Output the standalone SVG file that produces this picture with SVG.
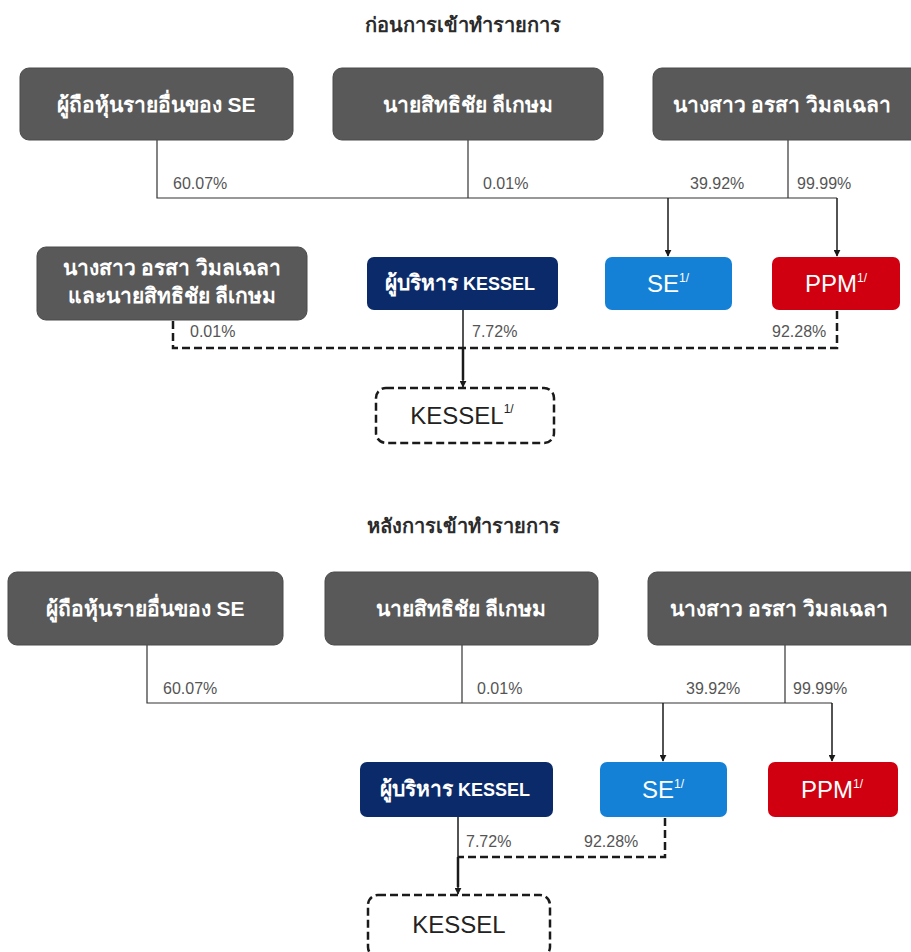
<svg xmlns="http://www.w3.org/2000/svg" width="911" height="952" viewBox="0 0 911 952">
<defs>
<marker id="arr" viewBox="0 0 10 10" refX="9" refY="5" markerWidth="7" markerHeight="7" orient="auto" markerUnits="userSpaceOnUse">
<path d="M0,0 L10,5 L0,10 z" fill="#1a1a1a"/>
</marker>
<style>
.title{font-family:"Liberation Sans","Noto Sans","DejaVu Sans",sans-serif;font-size:20px;font-weight:bold;fill:#2b2b2b;text-anchor:middle}
.gbox{fill:#595959;stroke:#4a4a4a;stroke-width:1}
.gtxt{font-family:"Liberation Sans","Noto Sans","DejaVu Sans",sans-serif;font-size:21px;font-weight:bold;fill:#ffffff;text-anchor:middle}
.navy{fill:#0b2a6a}
.blue{fill:#1581d6}
.red{fill:#d00010}
.ctxt{font-family:"Liberation Sans","Noto Sans","DejaVu Sans",sans-serif;font-size:18px;font-weight:bold;fill:#ffffff;text-anchor:middle}
.th{font-size:21px}
.btxt{font-family:"Liberation Sans","Noto Sans","DejaVu Sans",sans-serif;font-size:24px;fill:#ffffff;text-anchor:middle}
.ktxt{font-family:"Liberation Sans","Noto Sans","DejaVu Sans",sans-serif;font-size:24px;fill:#222222;text-anchor:middle}
.sup{font-size:12px}
.kbox{fill:#ffffff;stroke:#1a1a1a;stroke-width:2.5;stroke-dasharray:8 4}
.pct{font-family:"Liberation Sans","Noto Sans","DejaVu Sans",sans-serif;font-size:16px;fill:#555555}
.ln{fill:none;stroke:#333333;stroke-width:1.2}
.ar{fill:none;stroke:#1a1a1a;stroke-width:1.5}
.dl{fill:none;stroke:#1a1a1a;stroke-width:2.5;stroke-dasharray:8 4}
</style>
</defs>
<rect width="911" height="952" fill="#ffffff"/>

<text class="title" x="463" y="32">ก่อนการเข้าทำรายการ</text>
<text class="title" x="463" y="533">หลังการเข้าทำรายการ</text>

<!-- connectors -->
<g id="connectors">
<!-- top section -->
<polyline class="ln" points="157,140 157,198 837,198"/>
<line class="ln" x1="468" y1="140" x2="468" y2="198"/>
<line class="ln" x1="788" y1="140" x2="788" y2="198"/>
<line class="ar" x1="668" y1="198" x2="668" y2="256" marker-end="url(#arr)"/>
<line class="ar" x1="837" y1="198" x2="837" y2="256" marker-end="url(#arr)"/>
<polyline class="dl" points="173,321 173,348 837,348 837,311"/>
<line class="ar" x1="463" y1="310" x2="463" y2="387" marker-end="url(#arr)"/>
<line x1="463" y1="348" x2="463" y2="380" stroke="#1a1a1a" stroke-width="2.5"/>
<!-- bottom section -->
<polyline class="ln" points="147,645 147,703 832,703"/>
<line class="ln" x1="462" y1="645" x2="462" y2="703"/>
<line class="ln" x1="785" y1="645" x2="785" y2="703"/>
<line class="ar" x1="663" y1="703" x2="663" y2="761" marker-end="url(#arr)"/>
<line class="ar" x1="832" y1="703" x2="832" y2="761" marker-end="url(#arr)"/>
<polyline class="dl" points="665,818 665,857 458,857"/>
<line class="ar" x1="458" y1="817" x2="458" y2="894" marker-end="url(#arr)"/>
<line x1="458" y1="857" x2="458" y2="887" stroke="#1a1a1a" stroke-width="2.5"/>
</g>

<!-- percentage labels -->
<g id="labels">
<text class="pct" x="173" y="189">60.07%</text>
<text class="pct" x="483" y="189">0.01%</text>
<text class="pct" x="690" y="189">39.92%</text>
<text class="pct" x="797" y="189">99.99%</text>
<text class="pct" x="190" y="337">0.01%</text>
<text class="pct" x="472" y="337">7.72%</text>
<text class="pct" x="772" y="337">92.28%</text>
<text class="pct" x="163" y="694">60.07%</text>
<text class="pct" x="477" y="694">0.01%</text>
<text class="pct" x="686" y="694">39.92%</text>
<text class="pct" x="793" y="694">99.99%</text>
<text class="pct" x="466" y="847">7.72%</text>
<text class="pct" x="584" y="847">92.28%</text>
</g>

<!-- top nodes -->
<g id="t-others">
<rect class="gbox" x="20" y="68" width="273" height="72" rx="9"/>
<text class="gtxt" x="156" y="112">ผู้ถือหุ้นรายอื่นของ SE</text>
</g>
<g id="t-sittichai">
<rect class="gbox" x="333" y="68" width="270" height="72" rx="9"/>
<text class="gtxt" x="468" y="112">นายสิทธิชัย ลีเกษม</text>
</g>
<g id="t-orasa">
<rect class="gbox" x="653" y="68" width="270" height="72" rx="9"/>
<text class="gtxt" x="782" y="112">นางสาว อรสา วิมลเฉลา</text>
</g>
<g id="t-both">
<rect class="gbox" x="37" y="247" width="270" height="73" rx="9"/>
<text class="gtxt" x="172" y="275">นางสาว อรสา วิมลเฉลา</text>
<text class="gtxt" x="172" y="303">และนายสิทธิชัย ลีเกษม</text>
</g>
<g id="t-mgmt">
<rect class="navy" x="367" y="257" width="191" height="53" rx="7"/>
<text class="ctxt" x="460" y="290"><tspan class="th">ผู้บริหาร</tspan> KESSEL</text>
</g>
<g id="t-se">
<rect class="blue" x="605" y="257" width="127" height="53" rx="7"/>
<text class="btxt" x="668" y="292">SE<tspan class="sup" dy="-10">1/</tspan></text>
</g>
<g id="t-ppm">
<rect class="red" x="772" y="257" width="128" height="53" rx="7"/>
<text class="btxt" x="836" y="292">PPM<tspan class="sup" dy="-10">1/</tspan></text>
</g>
<g id="t-kessel">
<rect class="kbox" x="376" y="388" width="178" height="55" rx="10"/>
<text class="ktxt" x="462" y="424">KESSEL<tspan class="sup" dy="-11">1/</tspan></text>
</g>

<!-- bottom nodes -->
<g id="b-others">
<rect class="gbox" x="8" y="572" width="275" height="73" rx="9"/>
<text class="gtxt" x="145" y="616">ผู้ถือหุ้นรายอื่นของ SE</text>
</g>
<g id="b-sittichai">
<rect class="gbox" x="325" y="572" width="273" height="73" rx="9"/>
<text class="gtxt" x="461" y="616">นายสิทธิชัย ลีเกษม</text>
</g>
<g id="b-orasa">
<rect class="gbox" x="648" y="572" width="275" height="73" rx="9"/>
<text class="gtxt" x="779" y="616">นางสาว อรสา วิมลเฉลา</text>
</g>
<g id="b-mgmt">
<rect class="navy" x="360" y="762" width="193" height="55" rx="7"/>
<text class="ctxt" x="455" y="796"><tspan class="th">ผู้บริหาร</tspan> KESSEL</text>
</g>
<g id="b-se">
<rect class="blue" x="600" y="762" width="127" height="55" rx="7"/>
<text class="btxt" x="663" y="798">SE<tspan class="sup" dy="-10">1/</tspan></text>
</g>
<g id="b-ppm">
<rect class="red" x="768" y="762" width="130" height="55" rx="7"/>
<text class="btxt" x="832" y="798">PPM<tspan class="sup" dy="-10">1/</tspan></text>
</g>
<g id="b-kessel">
<rect class="kbox" x="368" y="895" width="182" height="62" rx="10"/>
<text class="ktxt" x="459" y="933">KESSEL</text>
</g>
</svg>
